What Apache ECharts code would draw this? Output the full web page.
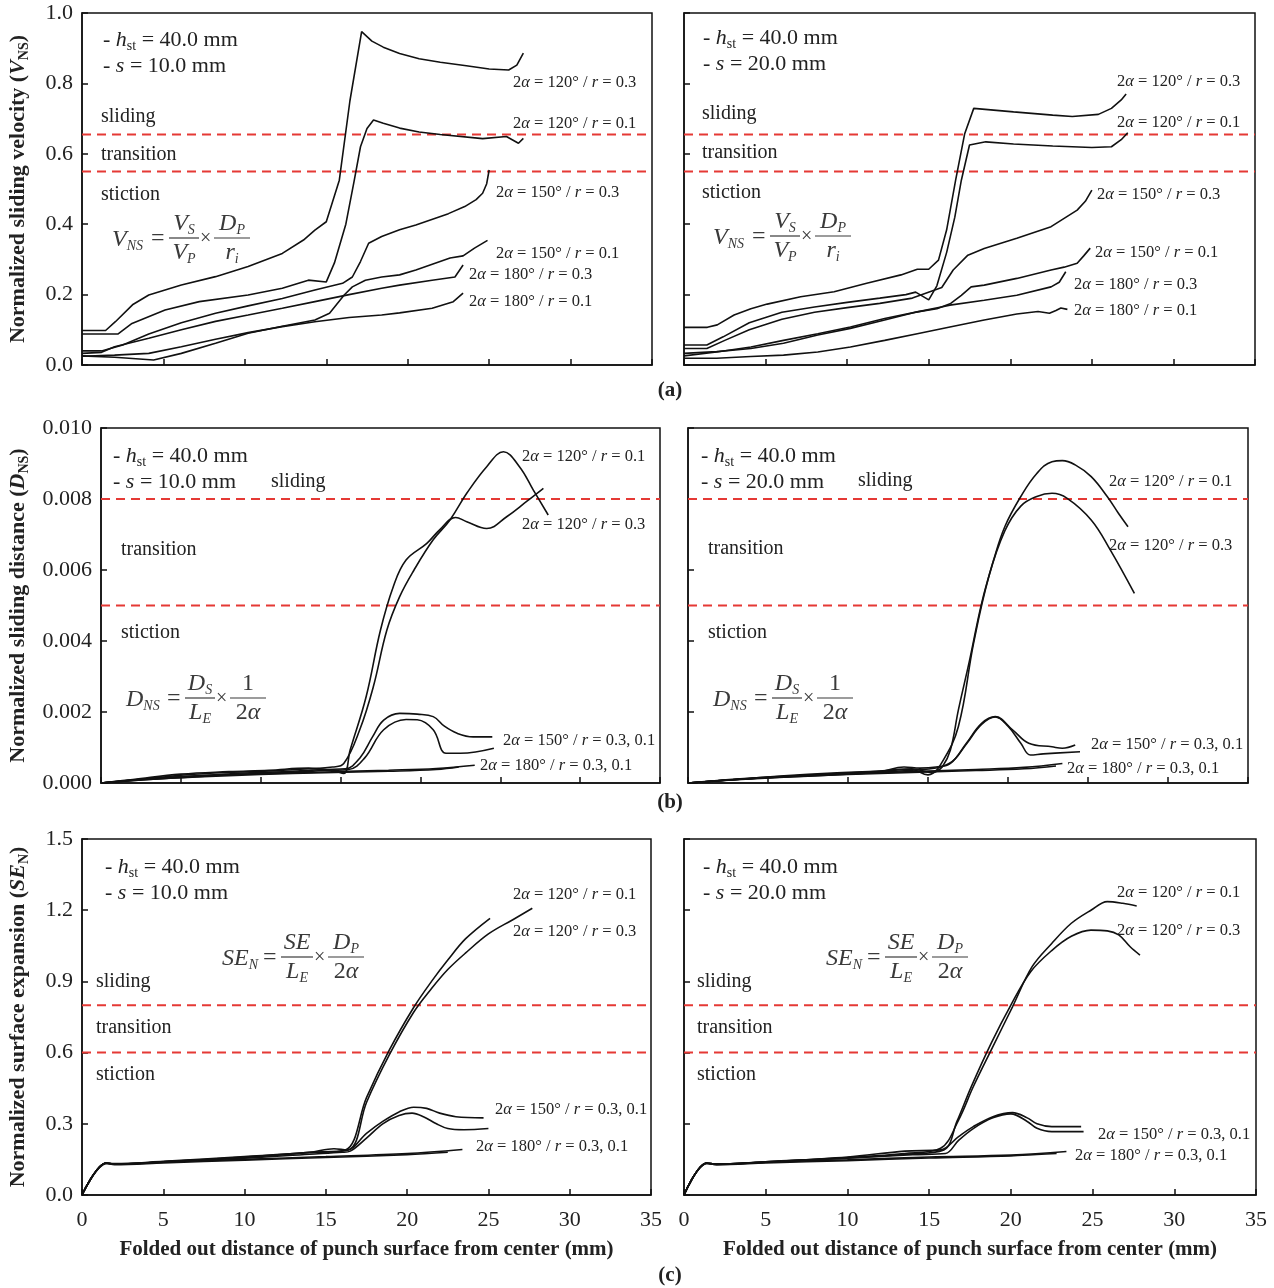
<!DOCTYPE html>
<html>
<head>
<meta charset="utf-8">
<script src="https://cdn.jsdelivr.net/npm/echarts@6/dist/echarts.min.js"></script>
<style>
  html, body { margin: 0; background: #fff; }
  #main { width: 1274px; height: 1288px; }
</style>
</head>
<body>
<div id="main"></div>
<script>
// ---- data: [folded-out distance (mm), value] ----
// (a) normalized sliding velocity, s = 10 mm
const vel10_120_03 = [[0,0.098],[1.45,0.098],[2.05,0.123],[3.1,0.171],[4.1,0.199],[6.1,0.227],[8.2,0.251],[10.2,0.28],[12.3,0.317],[13.6,0.355],[14.3,0.383],[15.0,0.407],[15.8,0.525],[16.45,0.75],[17.17,0.947],[17.8,0.92],[18.5,0.903],[19.5,0.885],[20.7,0.87],[22.0,0.86],[23.6,0.85],[25.0,0.841],[26.2,0.838],[26.7,0.852],[27.1,0.886]];
const vel10_120_01 = [[0,0.088],[2.2,0.088],[3.07,0.118],[5.1,0.156],[7.2,0.18],[10.2,0.199],[12.3,0.218],[13.9,0.241],[15.0,0.236],[15.5,0.29],[16.2,0.40],[16.7,0.52],[17.1,0.62],[17.5,0.672],[17.9,0.696],[18.5,0.687],[19.5,0.673],[20.7,0.662],[22.0,0.655],[24.6,0.643],[26.06,0.649],[26.8,0.63],[27.1,0.644]];
const vel10_150_03 = [[0,0.04],[1.2,0.04],[2.5,0.057],[4.1,0.088],[6.1,0.12],[8.2,0.147],[10.2,0.168],[12.3,0.189],[14.3,0.213],[16.0,0.232],[16.6,0.25],[17.1,0.294],[17.6,0.346],[18.4,0.365],[19.5,0.384],[20.5,0.398],[22.5,0.43],[23.5,0.45],[24.2,0.47],[24.6,0.488],[24.85,0.515],[25.0,0.554]];
const vel10_150_01 = [[0,0.026],[2.0,0.022],[4.4,0.014],[6.1,0.033],[8.2,0.062],[10.2,0.09],[12.3,0.11],[14.3,0.128],[15.2,0.147],[16.1,0.199],[16.6,0.222],[17.4,0.241],[18.4,0.25],[19.5,0.256],[20.5,0.27],[22.6,0.304],[23.4,0.31],[24.1,0.332],[24.9,0.354]];
const vel10_180_03 = [[0,0.033],[1.2,0.036],[2.0,0.052],[4.1,0.076],[6.1,0.1],[8.2,0.124],[10.2,0.142],[12.3,0.161],[14.3,0.18],[16.4,0.2],[18.4,0.218],[19.5,0.227],[21.5,0.241],[22.9,0.25],[23.4,0.284]];
const vel10_180_01 = [[0,0.025],[2.0,0.028],[4.1,0.033],[6.1,0.052],[8.2,0.073],[10.2,0.092],[12.3,0.109],[14.3,0.123],[16.4,0.135],[18.4,0.142],[19.5,0.148],[21.5,0.161],[22.8,0.18],[23.4,0.204]];

// (a) normalized sliding velocity, s = 20 mm
const vel20_120_03 = [[0,0.107],[1.43,0.107],[2.04,0.114],[3.07,0.142],[4.1,0.16],[5.1,0.173],[7.15,0.194],[9.2,0.208],[11.2,0.232],[13.3,0.256],[14.3,0.272],[15.0,0.272],[15.6,0.298],[16.1,0.384],[16.65,0.525],[17.2,0.656],[17.76,0.729],[20.2,0.719],[22.6,0.71],[23.8,0.706],[25.4,0.712],[26.2,0.729],[26.8,0.753],[27.1,0.77]];
const vel20_120_01 = [[0,0.057],[1.4,0.057],[2.4,0.08],[4.0,0.12],[6.0,0.15],[8.0,0.165],[10.0,0.178],[12.0,0.19],[13.6,0.2],[14.2,0.207],[15.0,0.185],[15.5,0.225],[16.1,0.32],[16.6,0.42],[17.0,0.525],[17.5,0.625],[18.5,0.634],[20.2,0.628],[22.6,0.622],[25.0,0.618],[26.2,0.62],[26.8,0.64],[27.2,0.66]];
const vel20_150_03 = [[0,0.047],[1.4,0.047],[2.5,0.07],[4.0,0.1],[6.0,0.13],[8.0,0.15],[10.0,0.163],[12.0,0.175],[14.0,0.19],[15.2,0.21],[15.8,0.22],[16.5,0.27],[17.4,0.312],[18.4,0.331],[20.4,0.36],[22.5,0.393],[24.1,0.44],[24.6,0.465],[25.0,0.497]];
const vel20_150_01 = [[0,0.033],[2.0,0.038],[4.1,0.047],[6.1,0.062],[8.2,0.085],[10.2,0.104],[12.3,0.128],[14.3,0.151],[15.5,0.16],[16.35,0.175],[17.0,0.198],[17.6,0.222],[18.4,0.227],[20.4,0.246],[22.5,0.27],[23.3,0.278],[24.1,0.289],[24.5,0.31],[24.9,0.332]];
const vel20_180_03 = [[0,0.026],[2.0,0.037],[4.1,0.051],[6.1,0.07],[8.2,0.089],[10.2,0.108],[12.3,0.132],[14.3,0.151],[16.3,0.17],[18.4,0.184],[20.4,0.198],[22.5,0.222],[23.0,0.235],[23.4,0.265]];
const vel20_180_01 = [[0,0.019],[2.0,0.019],[4.1,0.024],[6.1,0.028],[8.2,0.037],[10.2,0.051],[12.3,0.07],[14.3,0.089],[16.3,0.108],[18.4,0.128],[20.4,0.145],[21.7,0.152],[22.4,0.147],[22.8,0.155],[23.1,0.162],[23.5,0.158]];

// (b) normalized sliding distance, s = 10 mm
const dist10_120_01 = [[0,0],[2,0.00008],[5,0.00022],[8,0.0003],[10.5,0.00034],[13,0.0004],[14.5,0.00045],[15.2,0.00055],[16.2,0.0015],[17.05,0.00271],[17.9,0.00431],[18.7,0.00525],[19.6,0.006],[20.8,0.00685],[21.85,0.00741],[22.9,0.00816],[24.15,0.00891],[25.2,0.00933],[26.2,0.00891],[27.07,0.00825],[28.0,0.00755]];
const dist10_120_03 = [[0,0],[2,0.0001],[5,0.00025],[8,0.00032],[10.5,0.00036],[13,0.00042],[14.5,0.00035],[15.2,0.00027],[15.6,0.00093],[16.6,0.00243],[17.5,0.00431],[18.3,0.00553],[19.1,0.00628],[20.4,0.00675],[21.2,0.00713],[22.2,0.00748],[22.9,0.00736],[24.15,0.00717],[25.4,0.0075],[26.65,0.00793],[27.7,0.0083]];
const dist10_150_03 = [[0,0],[3,0.00012],[6,0.0002],[9,0.00028],[12,0.00033],[14,0.00038],[15.3,0.0004],[16.2,0.0007],[17,0.0013],[17.7,0.00177],[18.7,0.00196],[19.8,0.00194],[20.8,0.00187],[21.5,0.0016],[22.3,0.0014],[23.3,0.0013],[24.5,0.0013]];
const dist10_150_01 = [[0,0],[3,0.0001],[6,0.00018],[9,0.00025],[12,0.0003],[14,0.00035],[15.5,0.00038],[16.5,0.0007],[17.7,0.0015],[19.1,0.00179],[19.8,0.00178],[20.8,0.0015],[21.6,0.00084],[22.5,0.00084],[24.6,0.00098]];
const dist10_180_03 = [[0,0],[3,0.00012],[6,0.0002],[10,0.00026],[14,0.00031],[18,0.00036],[21,0.00041],[23.4,0.0005]];
const dist10_180_01 = [[0,0],[3,0.0001],[6,0.00017],[10,0.00024],[14,0.00029],[18,0.00033],[21,0.00038],[22.4,0.00045]];

// (b) normalized sliding distance, s = 20 mm
const dist20_120_01 = [[0,0],[3,0.0001],[6,0.00018],[9,0.00026],[12,0.00033],[14,0.00038],[15.0,0.00023],[15.4,0.0003],[15.9,0.00046],[16.4,0.00093],[16.9,0.00206],[17.6,0.00346],[18.35,0.00506],[19.1,0.00628],[19.8,0.00722],[20.8,0.00807],[21.8,0.00872],[22.75,0.00905],[23.4,0.00908],[24.2,0.00896],[25.2,0.00863],[26.2,0.00807],[26.9,0.0076],[27.5,0.00722]];
const dist20_120_03 = [[0,0],[3,0.0001],[6,0.0002],[9,0.00028],[12,0.00034],[14,0.0004],[15.2,0.0003],[15.9,0.0006],[16.9,0.00159],[17.85,0.00394],[18.8,0.00581],[19.8,0.0071],[20.8,0.0078],[21.8,0.00807],[22.75,0.00816],[23.7,0.00802],[25.2,0.00741],[26.4,0.00656],[27.9,0.00534]];
const dist20_150_03 = [[0,0],[3,0.0001],[6,0.00018],[9,0.00025],[12,0.00032],[13.5,0.00045],[14.5,0.00042],[15.5,0.00045],[16.4,0.00055],[17.4,0.00112],[18.35,0.00168],[19.2,0.00187],[20.3,0.00149],[21.3,0.00112],[22.75,0.00102],[23.4,0.00098],[24.2,0.00107]];
const dist20_150_01 = [[0,0],[3,0.00009],[6,0.00016],[9,0.00023],[12,0.0003],[14,0.00036],[15.5,0.00042],[16.5,0.0006],[17.4,0.0011],[18.35,0.00165],[19.2,0.00186],[20.0,0.0016],[20.8,0.00112],[21.4,0.00079],[22.2,0.00082],[24.5,0.00088]];
const dist20_180_03 = [[0,0],[3,0.00011],[6,0.00019],[10,0.00026],[14,0.00032],[18,0.00038],[21,0.00044],[23.4,0.00055]];
const dist20_180_01 = [[0,0],[3,0.0001],[6,0.00017],[10,0.00024],[14,0.0003],[18,0.00035],[21,0.0004],[23.0,0.00048]];

// (c) normalized surface expansion, s = 10 mm
const surf10_120_01 = [[0,0],[1.5,0.135],[2,0.13],[5,0.14],[10,0.16],[14,0.18],[16.2,0.19],[17.5,0.41],[18.9,0.61],[20.4,0.79],[21.5,0.9],[22.5,0.99],[23.6,1.08],[25.1,1.166]];
const surf10_120_03 = [[0,0],[1.5,0.135],[2,0.13],[5,0.14],[10,0.158],[14,0.178],[16.4,0.19],[17.5,0.39],[18.9,0.59],[20.4,0.77],[21.5,0.87],[22.5,0.95],[23.6,1.02],[25,1.1],[26.5,1.16],[27.7,1.208]];
const surf10_150_03 = [[0,0],[1.5,0.135],[2,0.132],[5,0.142],[10,0.162],[14,0.18],[15.5,0.195],[16.3,0.19],[17.5,0.26],[18.5,0.31],[19.5,0.35],[20.4,0.37],[21.2,0.365],[22,0.345],[23,0.33],[24.7,0.325]];
const surf10_150_01 = [[0,0],[1.5,0.135],[2,0.13],[5,0.14],[10,0.155],[14,0.172],[16.0,0.18],[16.5,0.185],[17.5,0.24],[18.5,0.3],[19.5,0.335],[20.3,0.345],[21,0.33],[21.8,0.3],[22.5,0.28],[23.5,0.275],[25,0.28]];
const surf10_180_03 = [[0,0],[1.5,0.135],[2,0.13],[5,0.138],[10,0.15],[15,0.162],[20,0.175],[23.4,0.192]];
const surf10_180_01 = [[0,0],[1.5,0.132],[2,0.128],[5,0.135],[10,0.147],[15,0.158],[20,0.17],[22.5,0.18]];

// (c) normalized surface expansion, s = 20 mm
const surf20_120_01 = [[0,0],[1.4,0.135],[2,0.13],[5,0.14],[10,0.158],[13.5,0.175],[15.7,0.197],[16.8,0.316],[17.7,0.456],[18.9,0.625],[20.1,0.793],[21.3,0.962],[22.5,1.06],[23.7,1.145],[24.9,1.2],[25.9,1.236],[26.85,1.229],[27.7,1.218]];
const surf20_120_03 = [[0,0],[1.4,0.135],[2,0.13],[5,0.14],[10,0.156],[13.5,0.172],[15.9,0.19],[16.7,0.31],[17.6,0.46],[18.8,0.64],[20.0,0.8],[21.2,0.94],[22.5,1.03],[23.7,1.09],[24.9,1.116],[25.9,1.113],[26.6,1.096],[27.3,1.046],[27.9,1.011]];
const surf20_150_03 = [[0,0],[1.4,0.135],[2,0.13],[5,0.14],[10,0.16],[13.5,0.185],[15.7,0.19],[16.8,0.246],[17.7,0.288],[18.9,0.33],[20.1,0.347],[21.0,0.325],[21.6,0.3],[22.5,0.288],[24.3,0.288]];
const surf20_150_01 = [[0,0],[1.4,0.133],[2,0.128],[5,0.138],[10,0.155],[14,0.17],[16,0.175],[16.8,0.23],[17.7,0.28],[18.9,0.325],[20.0,0.342],[21.0,0.31],[21.6,0.281],[22.5,0.267],[24.45,0.267]];
const surf20_180_03 = [[0,0],[1.4,0.135],[2,0.13],[5,0.138],[10,0.148],[15,0.16],[20,0.168],[23.4,0.183]];
const surf20_180_01 = [[0,0],[1.4,0.133],[2,0.128],[5,0.135],[10,0.145],[15,0.156],[20,0.165],[22.8,0.175]];

// regime thresholds (red dashed lines)
const velLimits = [0.655, 0.55];
const distLimits = [0.008, 0.005];
const surfLimits = [0.8, 0.6];

// axis ranges
const xRange = [0, 35, 5];
const velRange = [0, 1.0, 0.2];
const distRange = [0, 0.01, 0.002];
const surfRange = [0, 1.5, 0.3];

const SERIF = '"Liberation Serif", "Times New Roman", serif';
const INK = "#222";

function rs(size, extra) {
  return Object.assign({ fontFamily: SERIF, fontSize: size, color: INK, fill: INK }, extra || {});
}
const R = {
  n: rs(22, { lineHeight: 26 }),
  i: rs(22, { fontStyle: "italic", lineHeight: 26 }),
  s: rs(14, { verticalAlign: "bottom", lineHeight: 15 }),
  w: rs(20, { lineHeight: 24 }),
  l: rs(16.5, { lineHeight: 20 }),
  li: rs(16.5, { fontStyle: "italic", lineHeight: 20 }),
  fn: rs(24, { color: "#3a3a3a", fill: "#3a3a3a", lineHeight: 27 }),
  fx: rs(20, { color: "#3a3a3a", fill: "#3a3a3a", lineHeight: 27 }),
  fi: rs(24, { fontStyle: "italic", color: "#3a3a3a", fill: "#3a3a3a", lineHeight: 27 }),
  fs: rs(14, { fontStyle: "italic", color: "#3a3a3a", fill: "#3a3a3a", verticalAlign: "bottom", lineHeight: 15 }),
  p: rs(21, { fontWeight: "bold", lineHeight: 24 }),
};

function T(x, y, text, align, va) {
  return {
    type: "text", x, y, silent: true,
    style: { text, rich: R, align: align || "left", verticalAlign: va || "middle", fill: INK, fontFamily: SERIF, fontSize: 20 },
  };
}
function frac(cx, yBar, num, den, w) {
  return [
    T(cx, yBar - 1, num, "center", "bottom"),
    { type: "line", silent: true, shape: { x1: cx - w / 2, y1: yBar, x2: cx + w / 2, y2: yBar }, style: { stroke: "#3a3a3a", lineWidth: 1.2 } },
    T(cx, yBar + 1, den, "center", "top"),
  ];
}
function formula(x0, yBar, lhs, lw, n1, d1, w1, n2, d2, w2) {
  const eqX = x0 + lw + 3;
  const f1 = eqX + 18;
  const xX = f1 + w1 + 1;
  const f2 = xX + 14;
  return [
    T(x0, yBar + 2, lhs),
    T(eqX, yBar + 1, "{fn|=}"),
    ...frac(f1 + w1 / 2, yBar, n1, d1, w1),
    T(xX, yBar + 1, "{fx|×}"),
    ...frac(f2 + w2 / 2, yBar, n2, d2, w2),
  ];
}
function curveLabel(x, y, ang, r) {
  return T(x, y, "{l|2}{li|α}{l| = " + ang + "° / }{li|r}{l| = " + r + "}");
}
function setup(x, y, s) {
  return [
    T(x, y, "{n|- }{i|h}{s|st}{n| = 40.0 mm}"),
    T(x, y + 26, "{n|- }{i|s}{n| = " + s + " mm}"),
  ];
}

const grids = [
  { left: 82, top: 13, width: 570, height: 352 },
  { left: 684, top: 13, width: 571, height: 352 },
  { left: 101, top: 428, width: 559, height: 355 },
  { left: 688, top: 428, width: 560, height: 355 },
  { left: 82, top: 839, width: 569, height: 356 },
  { left: 684, top: 839, width: 572, height: 356 },
].map((g) => Object.assign(g, { show: true, borderColor: "#111", borderWidth: 1.5, backgroundColor: "transparent" }));

const panels = [
  { lines: [vel10_120_03, vel10_120_01, vel10_150_03, vel10_150_01, vel10_180_03, vel10_180_01], limits: velLimits, smooth: false },
  { lines: [vel20_120_03, vel20_120_01, vel20_150_03, vel20_150_01, vel20_180_03, vel20_180_01], limits: velLimits, smooth: false },
  { lines: [dist10_120_01, dist10_120_03, dist10_150_03, dist10_150_01, dist10_180_03, dist10_180_01], limits: distLimits, smooth: 0.4 },
  { lines: [dist20_120_01, dist20_120_03, dist20_150_03, dist20_150_01, dist20_180_03, dist20_180_01], limits: distLimits, smooth: 0.4 },
  { lines: [surf10_120_01, surf10_120_03, surf10_150_03, surf10_150_01, surf10_180_03, surf10_180_01], limits: surfLimits, smooth: 0.35 },
  { lines: [surf20_120_01, surf20_120_03, surf20_150_03, surf20_150_01, surf20_180_03, surf20_180_01], limits: surfLimits, smooth: 0.35 },
];

const yRanges = [velRange, velRange, distRange, distRange, surfRange, surfRange];
const yDigits = [1, 1, 3, 3, 1, 1];
const yNames = [
  "{b|Normalized sliding velocity (}{bi|V}{bs|NS}{b|)}",
  "",
  "{b|Normalized sliding distance (}{bi|D}{bs|NS}{b|)}",
  "",
  "{b|Normalized surface expansion (}{bi|SE}{bs|N}{b|)}",
  "",
];
const nameRich = {
  b: { fontFamily: SERIF, fontSize: 22, fontWeight: "bold", color: INK, lineHeight: 26 },
  bi: { fontFamily: SERIF, fontSize: 22, fontWeight: "bold", fontStyle: "italic", color: INK, lineHeight: 26 },
  bs: { fontFamily: SERIF, fontSize: 14, fontWeight: "bold", color: INK, verticalAlign: "bottom", lineHeight: 15 },
};

const tickLabel = { fontFamily: SERIF, fontSize: 22, color: INK };

const xAxes = grids.map((g, i) => ({
  type: "value", gridIndex: i, min: xRange[0], max: xRange[1], interval: xRange[2],
  axisLine: { lineStyle: { color: "#111", width: 1.5 } },
  axisTick: { inside: true, length: 6, lineStyle: { color: "#111", width: 1.5 } },
  axisLabel: Object.assign({ show: i >= 4, margin: 14 }, tickLabel),
  splitLine: { show: false },
  name: i >= 4 ? "Folded out distance of punch surface from center (mm)" : "",
  nameLocation: "middle", nameGap: 44,
  nameTextStyle: { fontFamily: SERIF, fontSize: 21, fontWeight: "bold", color: INK },
}));

const yAxes = grids.map((g, i) => ({
  type: "value", gridIndex: i, min: yRanges[i][0], max: yRanges[i][1], interval: yRanges[i][2],
  axisLine: { lineStyle: { color: "#111", width: 1.5 } },
  axisTick: { inside: true, length: 6, lineStyle: { color: "#111", width: 1.5 } },
  axisLabel: Object.assign({ show: i % 2 === 0, margin: 9, formatter: (v) => v.toFixed(yDigits[i]) }, tickLabel),
  splitLine: { show: false },
  name: yNames[i], nameLocation: "middle", nameRotate: 90, nameGap: i === 2 ? 70 : 51,
  nameTextStyle: { rich: nameRich },
}));

const series = [];
panels.forEach((p, i) => {
  // red dashed regime boundaries, spanning the full x range
  p.limits.forEach((v) => {
    series.push({
      type: "line", xAxisIndex: i, yAxisIndex: i, silent: true, showSymbol: false, z: 2,
      data: [[xRange[0], v], [xRange[1], v]],
      lineStyle: { color: "#e53935", type: [9, 6], width: 2 },
    });
  });
  p.lines.forEach((data) => {
    series.push({
      type: "line", xAxisIndex: i, yAxisIndex: i, data, showSymbol: false, silent: true,
      smooth: p.smooth,
      lineStyle: { color: "#111", width: 1.6 },
      z: 3,
    });
  });
});

// annotations
const graphic = [
  // (a)
  ...setup(103, 40, "10.0"),
  T(101, 117, "{w|sliding}"), T(101, 155, "{w|transition}"), T(101, 195, "{w|stiction}"),
  ...formula(112, 238, "{fi|V}{fs|NS}", 36, "{fi|V}{fs|S}", "{fi|V}{fs|P}", 30, "{fi|D}{fs|P}", "{fi|r}{fs|i}", 36),
  curveLabel(513, 83, 120, "0.3"), curveLabel(513, 124, 120, "0.1"),
  curveLabel(496, 193, 150, "0.3"), curveLabel(496, 254, 150, "0.1"),
  curveLabel(469, 275, 180, "0.3"), curveLabel(469, 302, 180, "0.1"),
  ...setup(703, 38, "20.0"),
  T(702, 114, "{w|sliding}"), T(702, 153, "{w|transition}"), T(702, 193, "{w|stiction}"),
  ...formula(713, 236, "{fi|V}{fs|NS}", 36, "{fi|V}{fs|S}", "{fi|V}{fs|P}", 30, "{fi|D}{fs|P}", "{fi|r}{fs|i}", 36),
  curveLabel(1117, 82, 120, "0.3"), curveLabel(1117, 123, 120, "0.1"),
  curveLabel(1097, 195, 150, "0.3"), curveLabel(1095, 253, 150, "0.1"),
  curveLabel(1074, 285, 180, "0.3"), curveLabel(1074, 311, 180, "0.1"),
  T(670, 391, "{p|(a)}", "center"),
  // (b)
  ...setup(113, 456, "10.0"),
  T(271, 482, "{w|sliding}"), T(121, 550, "{w|transition}"), T(121, 633, "{w|stiction}"),
  ...formula(126, 698, "{fi|D}{fs|NS}", 38, "{fi|D}{fs|S}", "{fi|L}{fs|E}", 30, "{fn|1}", "{fn|2}{fi|α}", 36),
  curveLabel(522, 457, 120, "0.1"), curveLabel(522, 525, 120, "0.3"),
  curveLabel(503, 741, 150, "0.3, 0.1"), curveLabel(480, 766, 180, "0.3, 0.1"),
  ...setup(701, 456, "20.0"),
  T(858, 481, "{w|sliding}"), T(708, 549, "{w|transition}"), T(708, 633, "{w|stiction}"),
  ...formula(713, 698, "{fi|D}{fs|NS}", 38, "{fi|D}{fs|S}", "{fi|L}{fs|E}", 30, "{fn|1}", "{fn|2}{fi|α}", 36),
  curveLabel(1109, 482, 120, "0.1"), curveLabel(1109, 546, 120, "0.3"),
  curveLabel(1091, 745, 150, "0.3, 0.1"), curveLabel(1067, 769, 180, "0.3, 0.1"),
  T(670, 803, "{p|(b)}", "center"),
  // (c)
  ...setup(105, 867, "10.0"),
  T(96, 982, "{w|sliding}"), T(96, 1028, "{w|transition}"), T(96, 1075, "{w|stiction}"),
  ...formula(222, 957, "{fi|SE}{fs|N}", 38, "{fi|SE}", "{fi|L}{fs|E}", 32, "{fi|D}{fs|P}", "{fn|2}{fi|α}", 36),
  curveLabel(513, 895, 120, "0.1"), curveLabel(513, 932, 120, "0.3"),
  curveLabel(495, 1110, 150, "0.3, 0.1"), curveLabel(476, 1147, 180, "0.3, 0.1"),
  ...setup(703, 867, "20.0"),
  T(697, 982, "{w|sliding}"), T(697, 1028, "{w|transition}"), T(697, 1075, "{w|stiction}"),
  ...formula(826, 957, "{fi|SE}{fs|N}", 38, "{fi|SE}", "{fi|L}{fs|E}", 32, "{fi|D}{fs|P}", "{fn|2}{fi|α}", 36),
  curveLabel(1117, 893, 120, "0.1"), curveLabel(1117, 931, 120, "0.3"),
  curveLabel(1098, 1135, 150, "0.3, 0.1"), curveLabel(1075, 1156, 180, "0.3, 0.1"),
  T(670, 1276, "{p|(c)}", "center"),
];

const chart = echarts.init(document.getElementById("main"), null, { renderer: "canvas" });
chart.setOption({
  animation: false,
  backgroundColor: "#fff",
  grid: grids,
  xAxis: xAxes,
  yAxis: yAxes,
  series,
  graphic,
});
</script>
</body>
</html>
